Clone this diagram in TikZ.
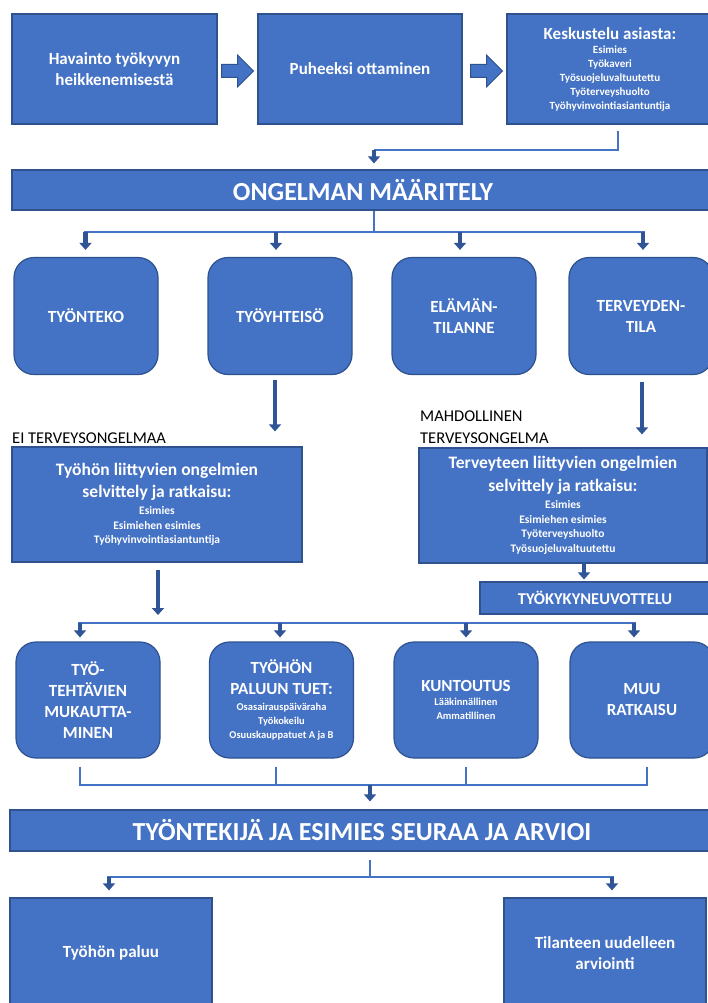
\documentclass[tikz,border=0pt]{standalone}
\usepackage{fontspec}
\setmainfont{Carlito}
\usetikzlibrary{arrows.meta,calc}
\definecolor{fillblue}{HTML}{4472C4}
\definecolor{edgeblue}{HTML}{2F528F}
\definecolor{lineblue}{HTML}{4472C4}
\definecolor{arrowblue}{HTML}{2F5597}
\newcommand\hdline[3][22]{{\fontsize{#2}{#1}\selectfont #3\par}}
\newcommand\smline[3][14.5]{{\fontsize{#2}{#1}\selectfont #3\par}}
\newcommand\plainpar{\centering\parindent=0pt\spaceskip=0pt\xspaceskip=0pt\relax}
\begin{document}
\begin{tikzpicture}[x=1pt,y=-1pt,
  box/.style={rectangle, fill=fillblue, draw=edgeblue, line width=1.2pt, text=white, inner sep=3pt, align=center, font={\bfseries\fontsize{17}{21}\selectfont}},
  rbox/.style={box, rounded corners=20pt},
  conn/.style={draw=lineblue, line width=2.2pt},
  arr/.style={draw=arrowblue, line width=4.2pt, -{Triangle[length=7pt,width=12pt]}},
  blk/.style={fill=fillblue, draw=edgeblue, line width=1pt, line join=miter},
  lbl/.style={inner sep=0pt, align=left, font={\fontsize{16.5}{22}\selectfont}}
]
\fill[white] (0,0) rectangle (707,1003);
\useasboundingbox (0,0) rectangle (707,1003);

% top row
\node[box, minimum width=205pt, minimum height=110pt] (b1) at (114.5,69) {Havainto työkyvyn\\heikkenemisestä};
\node[box, minimum width=204pt, minimum height=110pt] (b2) at (360,69) {Puheeksi ottaminen};
\node[box, minimum width=206pt, minimum height=110pt, text width=190pt] (b3) at (610,69)
  {\plainpar\hdline{17}{Keskustelu asiasta:}\smline[14]{11}{Esimies}\smline[14]{11}{Työkaveri}\smline[14]{11}{Työsuojeluvaltuutettu}\smline[14]{11}{Työterveyshuolto}\smline[14]{11}{Työhyvinvointiasiantuntija}};

\coordinate (m1) at ($(b1.east)!.5!(b2.west)+(0,2)$);
\coordinate (m2) at ($(b2.east)!.5!(b3.west)+(2,2)$);
\foreach \m in {m1,m2}{
  \draw[blk] ($(\m)+(-16,-6.5)$) -- ++(16,0) -- ++(0,-9.5) -- ++(16,16) -- ++(-16,16) -- ++(0,-9.5) -- ++(-16,0) -- cycle;
}

\node[box, minimum width=702pt, minimum height=40pt, font={\bfseries\fontsize{26}{30}\selectfont}] (bar1) at (363,190) {ONGELMAN MÄÄRITELY};

\coordinate (t0) at (618,150);
\coordinate (j1) at (374,150);
\draw[conn, shorten <=6pt] (b3.south -| t0) -- (t0) -- (j1);
\draw[arr, shorten >=6pt] (j1) -- (j1 |- bar1.north);

% problem areas
\node[rbox, minimum width=144pt, minimum height=117pt] (u1) at (86,316) {TYÖNTEKO};
\node[rbox, minimum width=144pt, minimum height=117pt] (u2) at (280,316) {TYÖYHTEISÖ};
\node[rbox, minimum width=144pt, minimum height=117pt] (u3) at (464,316) {ELÄMÄN-\\TILANNE};
\node[rbox, minimum width=144pt, minimum height=117pt] (u4) at (641,316) {TERVEYDEN-\\TILA};

\coordinate (j2) at (374,232);
\coordinate (a1) at (85.5,232);
\coordinate (a2) at (276,232);
\coordinate (a3) at (460,232);
\coordinate (a4) at (643,232);
\draw[conn] (bar1.south -| j2) -- (j2);
\draw[conn] ([xshift=-2pt]a1) -- ([xshift=2pt]a4);
\foreach \a/\u in {a1/u1,a2/u2,a3/u3,a4/u4}{
  \draw[arr, shorten >=7pt] (\a) -- (\a |- \u.north);
}

% labels
\node[lbl, anchor=base west] (l1) at (12,443) {EI TERVEYSONGELMAA};
\node[lbl, anchor=north west] (l2) at (420,411) {MAHDOLLINEN\\TERVEYSONGELMA};

% solution boxes
\node[box, minimum width=290pt, minimum height=115pt, text width=270pt] (lbox) at (157,504.5)
  {\plainpar\hdline{17.5}{Työhön liittyvien ongelmien}\hdline{17.5}{selvittely ja ratkaisu:}\smline[17]{11.5}{Esimies}\smline{11.5}{Esimiehen esimies}\smline{11.5}{Työhyvinvointiasiantuntija}};
\node[box, minimum width=288pt, minimum height=115pt, text width=270pt] (rbox) at (563,505.5)
  {\plainpar\hdline[23]{17.5}{Terveyteen liittyvien ongelmien}\hdline[23]{17.5}{selvittely ja ratkaisu:}\smline[17]{11.5}{Esimies}\smline{11.5}{Esimiehen esimies}\smline{11.5}{Työterveyshuolto}\smline{11.5}{Työsuojeluvaltuutettu}};
\node[box, minimum width=230pt, minimum height=32pt, font={\bfseries\fontsize{16.5}{20}\selectfont}] (tk) at (595,598) {TYÖKYKYNEUVOTTELU};

\coordinate (p1) at (275,380);
\coordinate (p2) at (642,382);
\coordinate (p3) at (584,563);
\coordinate (p4) at (158,570);
\draw[arr, shorten >=15pt] (p1) -- (p1 |- lbox.north);
\draw[arr, shorten >=13pt] (p2) -- (p2 |- rbox.north);
\draw[arr, shorten >=2pt] (p3) -- (p3 |- tk.north);

% second distribution
\coordinate (c1) at (80,623);
\coordinate (c2) at (280,623);
\coordinate (c3) at (466,623);
\coordinate (c4) at (634,623);
\draw[arr, shorten >=8pt] (p4) -- (p4 |- c1);
\draw[conn] ([xshift=-2pt]c1) -- ([xshift=2pt]c4);

\node[rbox, minimum width=144pt, minimum height=116pt] (d1) at (88,700) {TYÖ-\\TEHTÄVIEN\\MUKAUTTA-\\MINEN};
\node[rbox, minimum width=144pt, minimum height=116pt, text width=136pt] (d2) at (281.5,700)
  {\plainpar\hdline[21]{17}{TYÖHÖN}\hdline[21]{17}{PALUUN TUET:}\smline[16]{10.5}{Osasairauspäiväraha}\smline[14]{10.5}{Työkokeilu}\smline[14]{10.5}{Osuuskauppatuet A ja B}};
\node[rbox, minimum width=144pt, minimum height=116pt, text width=136pt] (d3) at (466,700)
  {\plainpar\hdline{17}{KUNTOUTUS}\smline[13.5]{10.5}{Lääkinnällinen}\smline[14]{10.5}{Ammatillinen}};
\node[rbox, minimum width=144pt, minimum height=116pt] (d4) at (642,700) {MUU\\RATKAISU};

\foreach \c/\d in {c1/d1,c2/d2,c3/d3,c4/d4}{
  \draw[arr, shorten >=4pt] (\c) -- (\c |- \d.north);
}

% gathering bracket
\coordinate (k1) at (80,785);
\coordinate (k2) at (276,785);
\coordinate (k3) at (466,785);
\coordinate (k4) at (647,785);
\coordinate (k0) at (370,785);
\foreach \k/\d in {k1/d1,k2/d2,k3/d3,k4/d4}{
  \draw[conn, shorten <=8pt] (\k |- \d.south) -- (\k);
}
\draw[conn] ([xshift=-1pt]k1) -- ([xshift=1pt]k4);

\node[box, minimum width=704pt, minimum height=41pt, font={\bfseries\fontsize{26}{30}\selectfont}] (bar2) at (362,830.5) {TYÖNTEKIJÄ JA ESIMIES SEURAA JA ARVIOI};
\draw[arr, shorten >=8pt] (k0) -- (k0 |- bar2.north);

% final outcomes
\node[box, minimum width=202pt, minimum height=110pt] (e1) at (111,953) {Työhön paluu};
\node[box, minimum width=202pt, minimum height=110pt] (e2) at (605,953) {Tilanteen uudelleen\\arviointi};

\coordinate (n0) at (370,877);
\coordinate (n1) at (109,877);
\coordinate (n2) at (612,877);
\draw[conn, shorten <=8pt] (n0 |- bar2.south) -- (n0);
\draw[conn] ([xshift=-2pt]n1) -- ([xshift=2pt]n2);
\draw[arr, shorten >=7pt] (n1) -- (n1 |- e1.north);
\draw[arr, shorten >=7pt] (n2) -- (n2 |- e2.north);
\end{tikzpicture}
\end{document}
